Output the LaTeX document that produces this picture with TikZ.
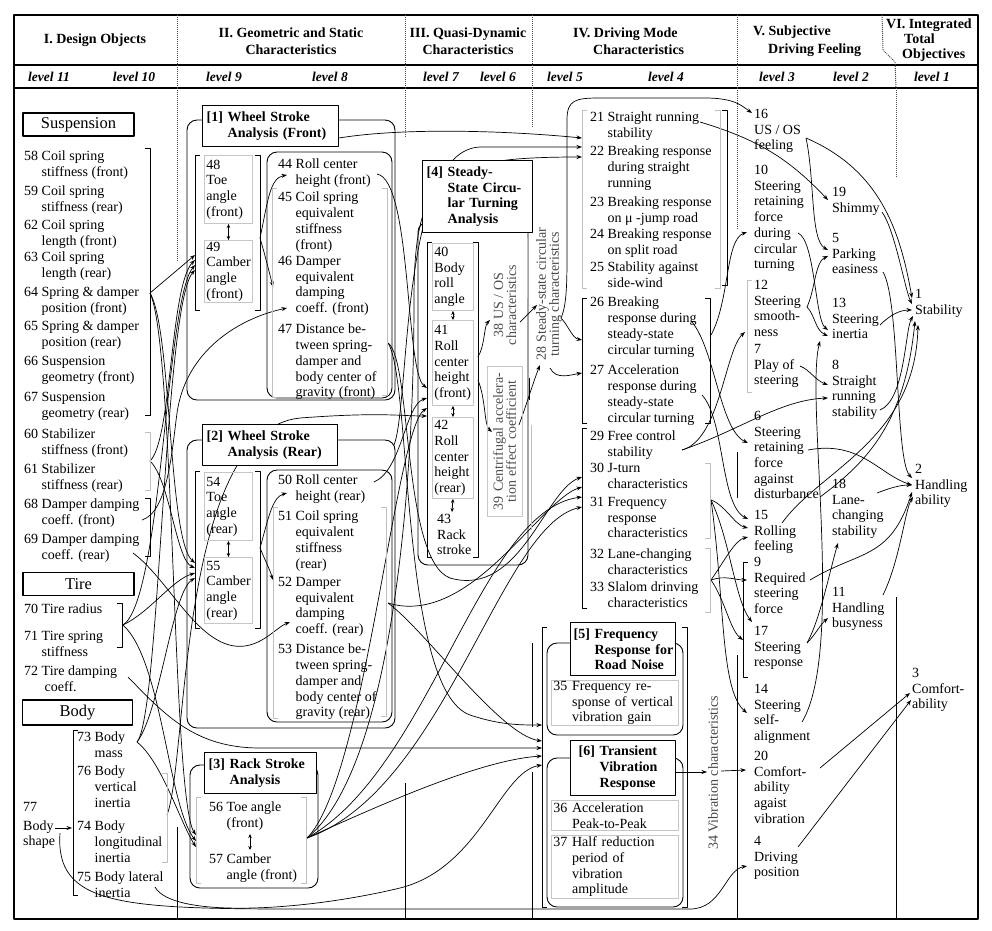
\documentclass[tikz,border=0pt]{standalone}
\usepackage{fontspec}
\setmainfont{Liberation Serif}
\usetikzlibrary{arrows.meta,backgrounds}
\newcommand\fI{\fontsize{14}{15.7}\selectfont}
\newcommand\fT{\bfseries\fontsize{14}{15.7}\selectfont}
\newcommand\fH{\bfseries\fontsize{14}{17.5}\selectfont}
\newcommand\fHs{\bfseries\fontsize{14}{15}\selectfont}
\newcommand\fL{\bfseries\itshape\fontsize{13.5}{15}\selectfont}
\newcommand\fB{\fontsize{16.5}{18}\selectfont}
\newcommand\fR{\fontsize{14}{13}\selectfont}
\newcommand\hng[1]{\hphantom{#1}\ }
\newcommand\Lbrk[4][]{\draw[brk,#1] ({#2+5},#3) -- (#2,#3) -- (#2,#4) -- ({#2+5},#4);}
\newcommand\Rbrk[4][]{\draw[brk,#1] ({#2-5},#3) -- (#2,#3) -- (#2,#4) -- ({#2-5},#4);}
\begin{document}
\begin{tikzpicture}[x=1pt,y=-1pt,line join=round,
 itm/.style={anchor=north west,inner sep=0pt,align=left,font=\fI},
 ttl/.style={draw,line width=1.4pt,anchor=north west,inner xsep=4pt,inner ysep=0pt,align=left,font=\fT,fill=white},
 gb/.style={draw=gray!45,line width=0.9pt,anchor=north west,inner xsep=2pt,inner ysep=0pt,align=left,font=\fI},
 cat/.style={draw,line width=1.2pt,minimum width=111pt,minimum height=23pt,inner sep=0pt,font=\fB},
 rot/.style={rotate=90,align=center,font=\fR,text=gray!55!black,inner sep=0pt},
 hd/.style={font=\fH,align=center,inner sep=0pt},
 lv/.style={font=\fL,inner sep=0pt},
 grp/.style={draw,line width=0.9pt,rounded corners=10pt},
 brk/.style={line width=1pt},
 gbrk/.style={draw=gray!50},
 ar/.style={-{Stealth[length=5.5pt,width=4pt]},line width=0.7pt},
 dar/.style={{Stealth[length=4pt,width=3.5pt]}-{Stealth[length=4pt,width=3.5pt]},line width=0.8pt},
 lvl/.style={line width=1pt},
 dotl/.style={line width=1pt,densely dotted,gray!60!black}]
\useasboundingbox (0,0) rectangle (992,930);
% ---------- frame and header ----------
\draw[line width=1.3pt] (14,15) rectangle (978,919);
\draw[line width=1.2pt] (14,65) -- (978,65);
\draw[line width=1.2pt] (14,88) -- (978,88);
\foreach \xx in {177,405,532,737} {\draw[dotl] (\xx,15) -- (\xx,88);}
\draw[dotl] (882,15) -- (883,50) -- (895,62) -- (896,88);
\draw[dotl] (177,88) -- (177,262);
\draw[dotl] (405,88) -- (405,138);
\draw[dotl] (532,88) -- (532,128);
\draw[dotl] (737,88) -- (737,230);
\draw[dotl] (896,88) -- (896,178);
\draw[lvl] (177,827) -- (177,919);
\draw[lvl] (405,783) -- (405,919);
\draw[lvl] (532,772) -- (532,919);
\draw[lvl] (532,643) -- (532,727);
\draw[lvl] (737,655) -- (737,919);
\draw[lvl] (737,452) -- (737,498);
\draw[lvl] (896,597) -- (896,919);
\draw[lvl,gray!50] (527,238) -- (527,298);
\draw[lvl] (529,378) -- (529,400);
\draw[lvl,gray!50] (531,425) -- (531,530);

\node[hd] (h1) at (95,40) {I. Design Objects};
\node[hd] (h2) at (291,41) {II. Geometric and Static\\Characteristics};
\node[hd] (h3) at (468,41) {III. Quasi-Dynamic\\Characteristics};
\node[hd,align=left,anchor=west] (h4) at (573,41) {IV. Driving Mode\\\hspace*{20pt}Characteristics};
\node[hd,align=left,anchor=west] (h5) at (753,41) {V. Subjective\\\hspace*{15pt}Driving Feeling};
\node[hd,font=\fHs,align=left,anchor=west] (h6) at (886,40) {VI. Integrated\\\hspace*{18pt}Total\\\hspace*{16pt}Objectives};
\node[lv] (lv11) at (49,77) {level 11};
\node[lv] (lv10) at (134,77) {level 10};
\node[lv] (lv9) at (224,77) {level 9};
\node[lv] (lv8) at (330,77) {level 8};
\node[lv] (lv7) at (441,77) {level 7};
\node[lv] (lv6) at (498,77) {level 6};
\node[lv] (lv5) at (565,77) {level 5};
\node[lv] (lv4) at (666,77) {level 4};
\node[lv] (lv3) at (777,77) {level 3};
\node[lv] (lv2) at (851,77) {level 2};
\node[lv] (lv1) at (932,77) {level 1};

% ---------- column I ----------
\node[cat] (susp) at (78.5,124.5) {Suspension};
\node[itm] (n58) at (24,151) {58 Coil spring\\\hng{58}stiffness (front)};
\node[itm] (n59) at (24,186) {59 Coil spring\\\hng{59}stiffness (rear)};
\node[itm] (n62) at (24,220) {62 Coil spring\\\hng{62}length (front)};
\node[itm] (n63) at (24,252) {63 Coil spring\\\hng{63}length (rear)};
\node[itm] (n64) at (24,287) {64 Spring \& damper\\\hng{64}position (front)};
\node[itm] (n65) at (24,321) {65 Spring \& damper\\\hng{65}position (rear)};
\node[itm] (n66) at (24,356) {66 Suspension\\\hng{66}geometry (front)};
\node[itm] (n67) at (24,392) {67 Suspension\\\hng{67}geometry (rear)};
\node[itm] (n60) at (24,429) {60 Stabilizer\\\hng{60}stiffness (front)};
\node[itm] (n61) at (24,464) {61 Stabilizer\\\hng{61}stiffness (rear)};
\node[itm] (n68) at (24,499) {68 Damper damping\\\hng{68}coeff. (front)};
\node[itm] (n69) at (24,534) {69 Damper damping\\\hng{69}coeff. (rear)};
\Rbrk{150}{148}{415}
\Rbrk[gbrk]{150}{432}{490}
\Rbrk{150}{498}{556}
\node[cat] (tire) at (78.5,584) {Tire};
\node[itm] (n70) at (24,604) {70 Tire radius};
\node[itm] (n71) at (24,631) {71 Tire spring\\\hng{71}stiffness};
\node[itm] (n72) at (24,666) {72 Tire damping\\\hng{72}\hspace*{3pt}coeff.};
\Rbrk{122}{603}{647}
\node[cat,minimum width=110pt,minimum height=25pt] (body) at (77.5,712.5) {Body};
\node[itm] (n77) at (23,802) {77\\[3pt]Body\\shape};
\Lbrk{73}{730}{895}
\node[itm] (n73) at (77,732) {73 Body\\\hng{73}mass};
\node[itm] (n76) at (77,766) {76 Body\\\hng{76}vertical\\\hng{76}inertia};
\node[itm] (n74) at (77,821) {74 Body\\\hng{74}longitudinal\\\hng{74}inertia};
\node[itm] (n75) at (77,872) {75 Body lateral\\\hng{75}inertia};
\Rbrk[gbrk]{167}{773}{862}

% ---------- column II ----------
\node[ttl,text width=128pt,minimum height=41pt] (T1) at (202,105) {[1] Wheel~Stroke\\\hng{[1]}Analysis~(Front)};
\node[gb,text width=44pt,minimum height=68pt] (b48) at (204,155) {48\\Toe\\angle\\(front)};
\node[gb,text width=44pt,minimum height=62pt] (b49) at (204,240) {49\\Camber\\angle\\(front)};
\Lbrk{195}{155}{310}
\Rbrk{260}{155}{310}
\node[itm] (n44) at (278,159) {44 Roll center\\\hng{44}height (front)};
\node[itm] (n45) at (278,192) {45 Coil spring\\\hng{45}equivalent\\\hng{45}stiffness\\\hng{45}(front)};
\node[itm] (n46) at (278,256) {46 Damper\\\hng{46}equivalent\\\hng{46}damping\\\hng{46}coeff. (front)};
\node[itm] (n47) at (278,324) {47 Distance be-\\\hng{47}tween spring-\\\hng{47}damper and\\\hng{47}body center of\\\hng{47}gravity (front)};
\Lbrk[gbrk]{272}{188}{397}
\Rbrk[gbrk]{387}{188}{395}

\node[ttl,text width=127pt,minimum height=41pt] (T2) at (202,424) {[2] Wheel~Stroke\\\hng{[2]}Analysis~(Rear)};
\node[gb,text width=44pt,minimum height=68pt] (b54) at (204,472) {54\\Toe\\angle\\(rear)};
\node[gb,text width=44pt,minimum height=66pt] (b55) at (204,557) {55\\Camber\\angle\\(rear)};
\Lbrk{195}{471}{628}
\Rbrk{260}{471}{628}
\node[itm] (n50) at (278,475) {50 Roll center\\\hng{50}height (rear)};
\node[itm] (n51) at (278,511) {51 Coil spring\\\hng{51}equivalent\\\hng{51}stiffness\\\hng{51}(rear)};
\node[itm] (n52) at (278,577) {52 Damper\\\hng{52}equivalent\\\hng{52}damping\\\hng{52}coeff. (rear)};
\node[itm] (n53) at (278,644) {53 Distance be-\\\hng{53}tween spring-\\\hng{53}damper and\\\hng{53}body center of\\\hng{53}gravity (rear)};
\Lbrk[gbrk]{273}{507}{718}
\Rbrk[gbrk]{386}{507}{716}

\node[ttl,text width=104pt,minimum height=41pt] (T3) at (204,752) {[3] Rack~Stroke\\\hng{[3]}Analysis};
\node[itm] (n56) at (209,802) {56 Toe angle\\\hng{56}(front)};
\node[itm] (n57) at (209,854) {57 Camber\\\hng{57}angle (front)};
\Lbrk[gbrk]{196}{797}{883}
\Rbrk[gbrk]{306}{797}{883}

% ---------- column III ----------
\node[ttl,text width=102pt,minimum height=72pt] (T4) at (422,160) {[4] Steady-\\\hng{[4]}State~Circu-\\\hng{[4]}lar~Turning\\\hng{[4]}Analysis};
\node[gb,text width=37pt,minimum height=67pt] (b40) at (432,243) {40\\Body\\roll\\angle};
\node[gb,text width=37pt,minimum height=85pt] (b41) at (432,320) {41\\Roll\\center\\height\\(front)};
\node[gb,text width=37pt,minimum height=81pt] (b42) at (432,417) {42\\Roll\\center\\height\\(rear)};
\node[itm] (n43) at (437,514) {43\\Rack\\stroke};
\Lbrk{427}{242}{557}
\Rbrk{478}{242}{557}
\node[rot,text=gray!60!black] (l38) at (505,305) {38 US / OS\\characteristics};
\node[gb,anchor=center,rotate=90,text width=146pt,minimum height=35pt,align=center,text=gray!60!black,font=\fR] (b39) at (504.5,441.5) {39 Centrifugal accelera-\\tion effect coefficient};
\node[rot] (l28) at (549,294) {28 Steady-state circular\\turning characteristics};

% ---------- column IV ----------
\node[itm] (n21) at (590,112) {21 Straight running\\\hng{21}stability};
\node[itm] (n22) at (590,146) {22 Breaking response\\\hng{22}during straight\\\hng{22}running};
\node[itm] (n23) at (590,197) {23 Breaking response\\\hng{23}on μ -jump road};
\node[itm] (n24) at (590,229) {24 Breaking response\\\hng{24}on split road};
\node[itm] (n25) at (590,262) {25 Stability against\\\hng{25}side-wind};
\Lbrk[gbrk]{582}{110}{288}
\Rbrk[gbrk]{720}{110}{288}
\Rbrk{727}{110}{285}
\node[itm] (n26) at (590,297) {26 Breaking\\\hng{26}response during\\\hng{26}steady-state\\\hng{26}circular turning};
\node[itm] (n27) at (590,365) {27 Acceleration\\\hng{27}response during\\\hng{27}steady-state\\\hng{27}circular turning};
\Lbrk{582}{298}{423}
\Rbrk{710}{298}{423}
\node[itm] (n29) at (590,431) {29 Free control\\\hng{29}stability};
\node[itm] (n30) at (590,463) {30 J-turn\\\hng{30}characteristics};
\node[itm] (n31) at (590,497) {31 Frequency\\\hng{31}response\\\hng{31}characteristics};
\node[itm] (n32) at (590,549) {32 Lane-changing\\\hng{32}characteristics};
\node[itm] (n33) at (590,582) {33 Slalom drinving\\\hng{33}characteristics};
\Lbrk{582}{428}{608}
\Rbrk[gbrk]{710}{463}{538}
\Rbrk[gbrk]{710}{548}{612}

\Lbrk{542}{627}{907}
\Rbrk{687}{627}{907}
\node[ttl,inner xsep=3pt,text width=99pt,minimum height=53pt] (T5) at (570,622) {\mbox{[5] Frequency}\\\mbox{\hng{[5]}Response for}\\\mbox{\hng{[5]}Road Noise}};
\node[gb,text width=123pt,minimum height=45pt] (b35) at (551,680) {35 Frequency re-\\\hng{35}sponse of vertical\\\hng{35}vibration gain};
\node[ttl,text width=97pt,minimum height=55pt] (T6) at (570,740) {\mbox{\hspace*{4pt}[6] Transient}\\\mbox{\hspace*{4pt}\hng{[6]}Vibration}\\\mbox{\hspace*{4pt}\hng{[6]}Response}};
\node[gb,text width=123pt,minimum height=30pt] (b36) at (551,800) {36 Acceleration\\\hng{36}Peak-to-Peak};
\node[gb,text width=123pt,minimum height=63pt] (b37) at (551,835) {37 Half reduction\\\hng{37}period of\\\hng{37}vibration\\\hng{37}amplitude};
\node[rot] (l34) at (713,773) {34 Vibration characteristics};

% ---------- column V / VI ----------
\node[itm] (n16) at (754,109) {16\\US / OS\\feeling};
\node[itm] (n10) at (754,165) {10\\Steering\\retaining\\force\\during\\circular\\turning};
\node[itm] (n19) at (832,187) {19\\Shimmy};
\node[itm] (n5) at (832,233) {5\\Parking\\easiness};
\node[itm] (n12) at (754,280) {12\\Steering\\smooth-\\ness};
\node[itm] (n13) at (832,298) {13\\Steering\\inertia};
\node[itm] (n7) at (754,344) {7\\Play of\\steering};
\node[itm] (n8) at (832,360) {8\\Straight\\running\\stability};
\Lbrk[gbrk]{747}{280}{392}
\node[itm] (n6) at (754,411) {6\\Steering\\retaining\\force\\against\\disturbance};
\node[itm] (n15) at (754,510) {15\\Rolling\\feeling};
\node[itm] (n9) at (754,557) {9\\Required\\steering\\force};
\node[itm] (n17) at (754,626) {17\\Steering\\response};
\Lbrk{743}{562}{677}
\node[itm] (n14) at (754,684) {14\\Steering\\self-\\alignment};
\node[itm] (n20) at (754,751) {20\\Comfort-\\ability\\agaist\\vibration};
\node[itm] (n4) at (754,836) {4\\Driving\\position};
\node[itm] (n18) at (832,479) {18\\Lane-\\changing\\stability};
\node[itm] (n11) at (832,587) {11\\Handling\\busyness};
\node[itm] (n1) at (915,289) {1\\Stability};
\node[itm] (n2) at (915,464) {2\\Handling\\ability};
\node[itm] (n3) at (912,668) {3\\Comfort-\\ability};

% ---------- ports ----------
\coordinate (pS) at (150,293); \coordinate (pStab) at (150,461);
\coordinate (p68) at (142,520); \coordinate (p69) at (133,553);
\coordinate (pTire) at (123,625); \coordinate (p72) at (128,677);
\coordinate (p73) at (137,742); \coordinate (pBody) at (167,815);
\coordinate (p75) at (155,887); \coordinate (p77) at (55,828);
\coordinate (p77b) at (60,833); \coordinate (p74b) at (72,828);
\coordinate (i48a) at (195,255); \coordinate (i48b) at (195,260);
\coordinate (i48c) at (195,265); \coordinate (i48d) at (195,270);
\coordinate (i55a) at (195,563); \coordinate (i55b) at (195,568);
\coordinate (i55c) at (195,573); \coordinate (i55d) at (195,578);
\coordinate (i3a) at (196,835); \coordinate (i3b) at (196,841); \coordinate (i3c) at (196,847);
\coordinate (o48) at (260,238); \coordinate (t44) at (287,175); \coordinate (t46) at (273,287);
\coordinate (o54) at (260,548); \coordinate (t50) at (287,493); \coordinate (t52) at (273,580);
\coordinate (t46b) at (287,308); \coordinate (t52b) at (290,622);
\coordinate (p44) at (377,174); \coordinate (p47) at (388,343); \coordinate (p50) at (374,482);
\coordinate (pG1) at (339,138); \coordinate (pG2) at (394,445); \coordinate (pG2r) at (388,603);
\coordinate (pG3) at (307,838);
\coordinate (i40a) at (427,388); \coordinate (i40b) at (427,398); \coordinate (i40c) at (427,408); \coordinate (i40d) at (427,416);
\coordinate (o41a) at (478,357); \coordinate (t38) at (490,320);
\coordinate (o41b) at (478,380); \coordinate (t39) at (492,432);
\coordinate (o38) at (520,322); \coordinate (t28a) at (537,305);
\coordinate (o39) at (519,425); \coordinate (t28b) at (540,365);
\coordinate (o28a) at (561,318); \coordinate (o28b) at (550,368);
\coordinate (i21a) at (582,138); \coordinate (i21b) at (582,147); \coordinate (i21c) at (582,157);
\coordinate (i26a) at (582,340); \coordinate (i26b) at (582,373);
\coordinate (i29a) at (582,477); \coordinate (i29b) at (582,487); \coordinate (i29c) at (582,497); \coordinate (i29d) at (582,507);
\coordinate (i56a) at (542,725); \coordinate (i56b) at (542,741); \coordinate (i56c) at (542,748);
\coordinate (i56d) at (542,756); \coordinate (i56e) at (542,765);
\coordinate (p21) at (700,122); \coordinate (p2627) at (711,335); \coordinate (p26) at (692,322);
\coordinate (p27) at (702,395); \coordinate (p29) at (682,450); \coordinate (p3031) at (711,500);
\coordinate (p3233) at (711,580); \coordinate (pT6) at (676,772); \coordinate (t34) at (707,772);
\coordinate (o34) at (721,771);
\coordinate (t16) at (752,113); \coordinate (t10) at (747,232); \coordinate (t12) at (745,332);
\coordinate (t6) at (748,443); \coordinate (t15a) at (748,519); \coordinate (t15b) at (748,528);
\coordinate (t15c) at (748,537); \coordinate (t9) at (747,580); \coordinate (t17a) at (752,622);
\coordinate (t17b) at (743,640); \coordinate (t14) at (747,713); \coordinate (t20) at (746,770);
\coordinate (t4) at (747,866);
\coordinate (t19) at (828,200); \coordinate (t5a) at (828,250); \coordinate (t5b) at (828,256);
\coordinate (t13a) at (828,330); \coordinate (t13b) at (828,336); \coordinate (t13c) at (820,341);
\coordinate (t8a) at (828,385); \coordinate (t8b) at (828,398); \coordinate (t18) at (838,543);
\coordinate (t11) at (828,618);
\coordinate (t1a) at (912,298); \coordinate (t1b) at (912,304); \coordinate (t1c) at (912,310);
\coordinate (t1d) at (913,316); \coordinate (t1e) at (915,321); \coordinate (t1f) at (918,325);
\coordinate (t2a) at (912,478); \coordinate (t2b) at (912,485); \coordinate (t2c) at (912,492); \coordinate (t2d) at (913,497);
\coordinate (t3a) at (910,693); \coordinate (t3b) at (911,700);
\coordinate (p16) at (806,138); \coordinate (p10) at (798,233); \coordinate (p12) at (807,307);
\coordinate (p7) at (800,366); \coordinate (p19) at (882,212); \coordinate (p5) at (883,272);
\coordinate (p13) at (880,325); \coordinate (p8) at (880,410); \coordinate (p6a) at (808,450);
\coordinate (p6b) at (820,497); \coordinate (p15) at (782,523); \coordinate (p9) at (810,580);
\coordinate (p17) at (807,643); \coordinate (p14) at (802,722); \coordinate (p18) at (877,493);
\coordinate (p11) at (883,595); \coordinate (p20) at (820,768); \coordinate (p4) at (798,847);

\begin{pgfonlayer}{background}
% groups
\draw[grp] (187,120) rectangle (395,400);
\draw[grp] (267,152) rectangle (392,398);
\draw[grp] (187,440) rectangle (395,728);
\draw[grp] (267,470) rectangle (392,722);
\draw[grp] (190,765) rectangle (318,888);
\draw[grp] (418,222) rectangle (528,565);
\draw[grp] (547,643) rectangle (683,735);
\draw[grp] (547,758) rectangle (683,907);
% I -> II
\draw[ar] (pS) -- (i48a);
\draw[ar] (pS) .. controls (172,330) and (168,540) .. (i55a);
\draw[ar] (pS) .. controls (175,345) and (172,800) .. (i3a);
\draw[ar] (pStab) .. controls (172,440) and (170,285) .. (i48b);
\draw[ar] (pStab) .. controls (170,480) and (176,560) .. (i55b);
\draw[ar] (p68) .. controls (168,512) and (172,450) .. (177,413) .. controls (186,350) and (240,318) .. (t46b);
\draw[ar] (p69) .. controls (170,580) and (200,652) .. (245,646) .. controls (265,643) and (277,627) .. (t52b);
\draw[ar] (pTire) .. controls (150,612) and (172,580) .. (i55c);
\draw[ar] (pTire) .. controls (162,600) and (166,300) .. (i48c);
\draw[ar] (pTire) .. controls (162,660) and (168,805) .. (i3b);
\draw[ar] (p72) .. controls (165,715) and (195,748) .. (260,748) -- (i56c);
\draw[ar] (p73) .. controls (160,715) and (164,305) .. (i48d);
\draw[ar] (p73) .. controls (160,712) and (172,592) .. (i55d);
\draw[ar] (p73) .. controls (162,762) and (180,822) .. (i3c);
\draw[ar] (pBody) .. controls (188,760) and (178,430) .. (300,418) .. controls (380,412) and (400,416) .. (i40d);
\draw[ar] (p75) .. controls (172,918) and (300,912) .. (400,888) .. controls (480,868) and (500,772) .. (i56e);
\draw[ar] (p77) -- (p74b);
\draw[ar] (p77b) .. controls (55,905) and (120,909) .. (300,909) -- (690,909) .. controls (722,909) and (725,870) .. (t4);
% II internal
\draw[ar] (o48) .. controls (268,200) and (270,178) .. (t44);
\draw[ar] (o48) .. controls (265,255) and (270,275) .. (t46);
\draw[ar] (o54) .. controls (268,520) and (272,497) .. (t50);
\draw[ar] (o54) .. controls (265,560) and (270,570) .. (t52);
\draw[dar] (b48.south) -- (b49.north);
\draw[dar] (b54.south) -- (b55.north);
\draw[dar] (250,834) -- (250,850);
\draw[dar] (b40.south) -- (b41.north);
\draw[dar] (b41.south) -- (b42.north);
\draw[dar] (b42.south) -- (452,512);
% II -> III / IV
\draw[ar] (pG1) .. controls (400,128) and (500,130) .. (i21a);
\draw[ar] (pG2) .. controls (410,405) and (400,150) .. (480,147) -- (i21b);
\draw[ar] (pG3) .. controls (390,770) and (414,500) .. (414,300) .. controls (414,175) and (440,157) .. (i21c);
\draw[ar] (p44) .. controls (412,180) and (405,372) .. (i40a);
\draw[ar] (p50) .. controls (402,470) and (405,405) .. (i40b);
\draw[ar] (pG3) .. controls (365,780) and (395,430) .. (i40c);
\draw[ar] (p47) .. controls (412,360) and (402,560) .. (450,578) .. controls (520,598) and (545,490) .. (i29a);
\draw[ar] (pG2r) .. controls (470,628) and (540,500) .. (i29b);
\draw[ar] (pG3) .. controls (430,770) and (480,510) .. (i29c);
\draw[ar] (pG3) .. controls (445,790) and (500,525) .. (i29d);
\draw[ar] (p47) .. controls (412,380) and (400,690) .. (470,715) .. controls (500,725) and (520,725) .. (i56a);
\draw[ar] (pG2r) .. controls (425,630) and (500,735) .. (i56b);
\draw[ar] (pG3) .. controls (380,805) and (480,760) .. (i56d);
% III internal
\draw[ar] (o41a) .. controls (485,345) and (484,326) .. (t38);
\draw[ar] (o41b) .. controls (486,400) and (484,425) .. (t39);
\draw[ar] (o38) -- (t28a);
\draw[ar] (o39) .. controls (528,400) and (534,380) .. (t28b);
\draw[ar] (o28a) .. controls (568,325) and (572,338) .. (i26a);
\draw[ar] (o28b) .. controls (556,380) and (570,375) .. (i26b);
\draw[ar] (o28a) .. controls (567,305) and (567,280) .. (567,250) -- (567,120) .. controls (567,100) and (575,98) .. (600,98) -- (705,98) .. controls (735,98) and (742,106) .. (t16);
% IV -> V
\draw[ar] (p21) .. controls (760,140) and (790,160) .. (t19);
\draw[ar] (p2627) .. controls (730,300) and (725,240) .. (t10);
\draw[ar] (p26) .. controls (715,350) and (720,430) .. (t6);
\draw[ar] (p27) .. controls (725,420) and (720,505) .. (t15a);
\draw[ar] (p29) .. controls (720,440) and (725,350) .. (t12);
\draw[ar] (p29) .. controls (740,430) and (780,400) .. (t8b);
\draw[ar] (p3031) .. controls (725,505) and (735,525) .. (t15b);
\draw[ar] (p3031) .. controls (730,540) and (735,600) .. (t17a);
\draw[ar] (p3031) .. controls (725,600) and (720,690) .. (t14);
\draw[ar] (p3233) .. controls (725,560) and (735,540) .. (t15c);
\draw[ar] (p3233) .. controls (725,575) and (735,580) .. (t9);
\draw[ar] (p3233) .. controls (725,600) and (730,630) .. (t17b);
\draw[ar] (pT6) -- (t34);
\draw[ar] (o34) -- (t20);
% V internal and V -> VI
\draw[ar] (p16) .. controls (815,180) and (810,240) .. (t5a);
\draw[ar] (p16) .. controls (880,170) and (900,230) .. (t1a);
\draw[ar] (p10) .. controls (815,240) and (815,320) .. (t13a);
\draw[ar] (p12) .. controls (815,290) and (815,262) .. (t5b);
\draw[ar] (p12) .. controls (815,315) and (815,330) .. (t13b);
\draw[ar] (p7) .. controls (810,370) and (815,380) .. (t8a);
\draw[ar] (p19) .. controls (895,230) and (905,290) .. (t1b);
\draw[ar] (p5) .. controls (900,300) and (895,460) .. (t2a);
\draw[ar] (p13) .. controls (890,315) and (900,310) .. (t1c);
\draw[ar] (p8) .. controls (905,400) and (905,330) .. (t1d);
\draw[ar] (p6a) .. controls (860,440) and (880,475) .. (t2b);
\draw[ar] (p6b) .. controls (870,460) and (905,420) .. (t1e);
\draw[ar] (p15) .. controls (820,470) and (915,440) .. (t1f);
\draw[ar] (p9) .. controls (860,550) and (890,560) .. (t2c);
\draw[ar] (p17) .. controls (815,635) and (820,625) .. (t11);
\draw[ar] (p17) .. controls (820,620) and (830,570) .. (t18);
\draw[ar] (p14) .. controls (845,650) and (805,400) .. (t13c);
\draw[ar] (p18) .. controls (890,488) and (900,485) .. (t2b);
\draw[ar] (p11) .. controls (900,560) and (905,510) .. (t2d);
\draw[ar] (p20) -- (t3a);
\draw[ar] (p4) -- (t3b);
\end{pgfonlayer}
\end{tikzpicture}
\end{document}
